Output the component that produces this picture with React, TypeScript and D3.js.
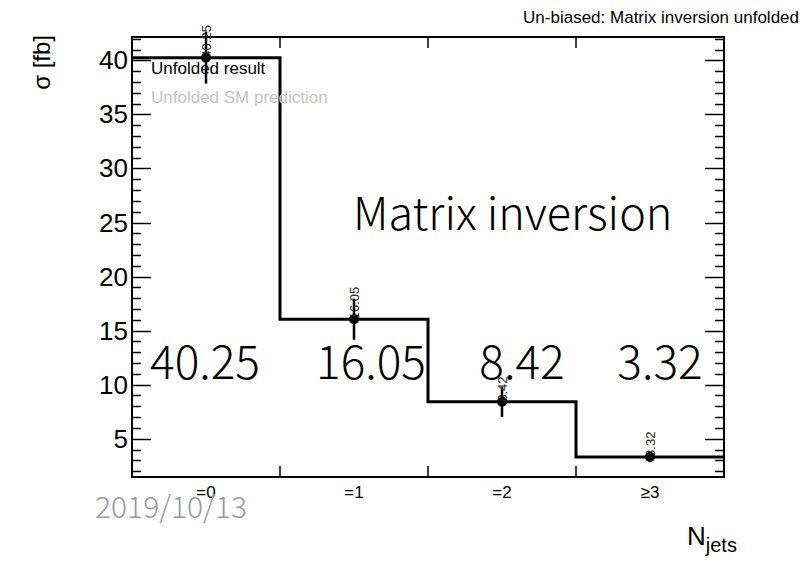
import React, { useRef, useEffect } from 'react';
import * as d3 from 'd3';

const WIDTH = 805;
const HEIGHT = 565;

// unfolded cross section per jet bin
const categories = ['=0', '=1', '=2', '≥3'];
const values = [40.25, 16.05, 8.42, 3.32];
const errors = [2.4, 1.9, 1.4, 0.5];
const valueLabels = ['40.25', '16.05', '8.42', '3.32'];
const yTicks = [5, 10, 15, 20, 25, 30, 35, 40];
// big text labels drift a bit from the bin centres
const bigLabelShift = [-1, 17, 20, 10];

const FRAME = { left: 132, right: 724, top: 37, bottom: 477 };
const SANS = 'Liberation Sans, Arial, Helvetica, sans-serif';
const LIGHT = '"Noto Sans CJK JP", "Noto Sans", sans-serif';

export default function App() {
  const svgRef = useRef<SVGSVGElement>(null);

  useEffect(() => {
    if (!svgRef.current) return;
    const svg = d3.select(svgRef.current);
    svg.selectAll('*').remove();

    const x = d3.scaleBand<string>().domain(categories).range([FRAME.left, FRAME.right]).padding(0);
    const y = d3.scaleLinear().domain([1.46, 42.16]).range([FRAME.bottom, FRAME.top]);
    const cx = (c: string) => (x(c) ?? 0) + x.bandwidth() / 2;

    // frame
    svg.append('rect')
      .attr('x', FRAME.left).attr('y', FRAME.top)
      .attr('width', FRAME.right - FRAME.left).attr('height', FRAME.bottom - FRAME.top)
      .attr('fill', 'none').attr('stroke', '#000').attr('stroke-width', 2);

    // y ticks, both sides, minor every unit
    const minor = d3.range(2, 43);
    minor.forEach((v) => {
      const len = v % 5 === 0 ? 19 : 9;
      const yy = Math.round(y(v)) + 0.5;
      svg.append('line').attr('x1', FRAME.left).attr('x2', FRAME.left + len)
        .attr('y1', yy).attr('y2', yy).attr('stroke', '#000').attr('stroke-width', 1.5);
      svg.append('line').attr('x1', FRAME.right).attr('x2', FRAME.right - len)
        .attr('y1', yy).attr('y2', yy).attr('stroke', '#000').attr('stroke-width', 1.5);
    });

    svg.append('g').selectAll('text').data(yTicks).join('text')
      .attr('x', 128).attr('y', (d) => y(d) + 9)
      .attr('text-anchor', 'end')
      .attr('font-family', SANS).attr('font-size', 26)
      .text((d) => d);

    // x ticks at bin edges
    categories.slice(1).forEach((c) => {
      const xx = x(c) ?? 0;
      svg.append('line').attr('x1', xx).attr('x2', xx).attr('y1', FRAME.bottom).attr('y2', FRAME.bottom - 11)
        .attr('stroke', '#000').attr('stroke-width', 1.5);
      svg.append('line').attr('x1', xx).attr('x2', xx).attr('y1', FRAME.top).attr('y2', FRAME.top + 11)
        .attr('stroke', '#000').attr('stroke-width', 1.5);
    });

    svg.append('g').selectAll('text').data(categories).join('text')
      .attr('x', (d) => cx(d)).attr('y', 498)
      .attr('text-anchor', 'middle')
      .attr('font-family', SANS).attr('font-size', 17)
      .text((d) => d);

    // step histogram
    const pts: [number, number][] = categories.map((c, i) => [x(c) ?? 0, values[i]]);
    pts.push([FRAME.right, values[values.length - 1]]);
    const step = d3.line<[number, number]>()
      .x((d) => d[0]).y((d) => y(d[1]))
      .curve(d3.curveStepAfter);
    svg.append('path').attr('d', step(pts) ?? '')
      .attr('fill', 'none').attr('stroke', '#000').attr('stroke-width', 3);

    // points with error bars
    categories.forEach((c, i) => {
      svg.append('line')
        .attr('x1', cx(c)).attr('x2', cx(c))
        .attr('y1', y(values[i] - errors[i])).attr('y2', y(values[i] + errors[i]))
        .attr('stroke', '#000').attr('stroke-width', 2.5);
      svg.append('circle').attr('cx', cx(c)).attr('cy', y(values[i])).attr('r', 5).attr('fill', '#000');
      svg.append('text')
        .attr('transform', `translate(${cx(c) + 4.5},${y(values[i])}) rotate(-90)`)
        .attr('font-family', SANS).attr('font-size', 13)
        .attr('fill', '#222')
        .text(valueLabels[i]);
    });

    // big value annotations
    categories.forEach((c, i) => {
      svg.append('text')
        .attr('x', cx(c) + bigLabelShift[i]).attr('y', 379)
        .attr('text-anchor', 'middle')
        .attr('font-family', LIGHT).attr('font-weight', 300).attr('font-size', 46)
        .text(valueLabels[i]);
    });

    svg.append('text')
      .attr('x', 353).attr('y', 230)
      .attr('font-family', LIGHT).attr('font-weight', 300).attr('font-size', 45)
      .text('Matrix inversion');

    // legend
    svg.append('text').attr('x', 151).attr('y', 74)
      .attr('font-family', SANS).attr('font-size', 17).attr('fill', '#000')
      .text('Unfolded result');
    svg.append('text').attr('x', 151).attr('y', 103)
      .attr('font-family', SANS).attr('font-size', 17).attr('fill', '#c4c4c4')
      .text('Unfolded SM prediction');

    // titles
    svg.append('text').attr('x', 799).attr('y', 23)
      .attr('text-anchor', 'end')
      .attr('font-family', SANS).attr('font-size', 17)
      .text('Un-biased: Matrix inversion unfolded');

    svg.append('text')
      .attr('transform', 'translate(50,35) rotate(-90)')
      .attr('text-anchor', 'end')
      .attr('font-family', SANS).attr('font-size', 24)
      .text('σ [fb]');

    const xt = svg.append('text').attr('x', 687).attr('y', 545)
      .attr('font-family', SANS).attr('font-size', 26);
    xt.append('tspan').text('N');
    xt.append('tspan').attr('dy', 7).attr('font-size', 20).text('jets');

    svg.append('text').attr('x', 95).attr('y', 518)
      .attr('font-family', LIGHT).attr('font-weight', 300).attr('font-size', 30)
      .attr('fill', '#999')
      .text('2019/10/13');
  }, []);

  return (
    <svg
      ref={svgRef}
      width={WIDTH}
      height={HEIGHT}
      style={{ position: 'absolute', left: 0, top: 0, background: '#fff' }}
    />
  );
}
